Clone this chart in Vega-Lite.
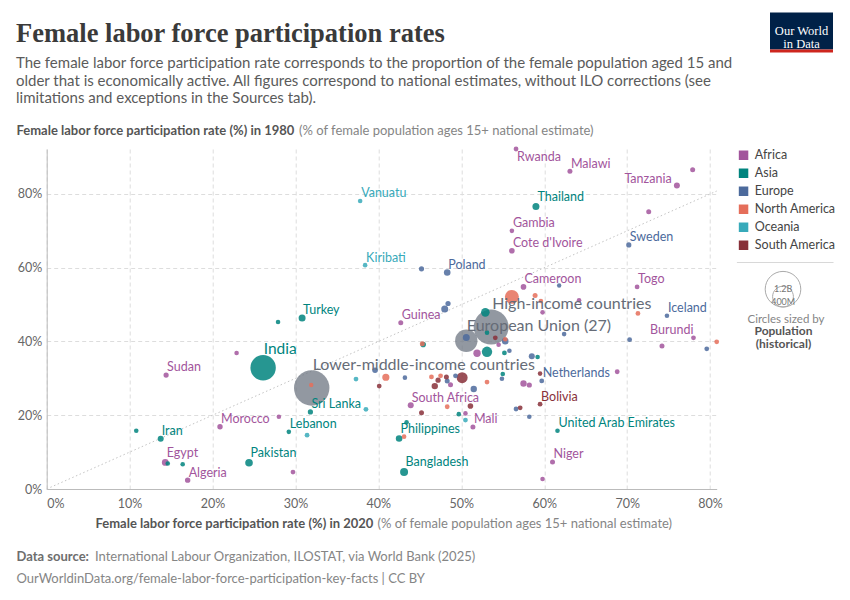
{
  "$schema": "https://vega.github.io/schema/vega-lite/v6.json",
  "width": 670,
  "height": 340,
  "autosize": {"type": "none"},
  "padding": {"left": 46.7, "top": 149, "right": 133.3, "bottom": 111},
  "background": "white",
  "config": {"font": "Lato", "view": {"stroke": null}, "style": {"guide-label": {"lineHeight": 13}}},
  "title": {
    "text": "Female labor force participation rates",
    "subtitle": ["The female labor force participation rate corresponds to the proportion of the female population aged 15 and", "older that is economically active. All figures correspond to national estimates, without ILO corrections (see", "limitations and exceptions in the Sources tab)."],
    "anchor": "start", "frame": "group", "dx": -30.7, "offset": -106.5,
    "font": "Liberation Serif", "fontSize": 26.5, "fontWeight": "bold", "color": "#3a3a3a",
    "subtitleFont": "Lato", "subtitleFontSize": 15, "subtitleColor": "#5b5b5b", "subtitleLineHeight": 17.5, "subtitlePadding": 9
  },
  "datasets": {
    "diag": [{"x": 0, "y": 0}, {"x": 80.8, "y": 80.8}],
    "aggregates": [
      {"entity": "High-income countries", "x2020": 53.6, "y1980": 43.9, "pop": 1160000000},
      {"entity": "Lower-middle-income countries", "x2020": 31.96, "y1980": 27.4, "pop": 1190000000},
      {"entity": "European Union (27)", "x2020": 50.6, "y1980": 40.2, "pop": 466000000}
    ],
    "countries": [
      {"entity": "Rwanda", "continent": "Africa", "x2020": 56.6, "y1980": 92.2, "pop": 7400000},
      {"entity": "Malawi", "continent": "Africa", "x2020": 63.1, "y1980": 86.2, "pop": 9300000},
      {"entity": "Tanzania", "continent": "Africa", "x2020": 76.0, "y1980": 82.3, "pop": 19900000},
      {"entity": "Africa other 1", "continent": "Africa", "x2020": 77.9, "y1980": 86.6, "pop": 9300000},
      {"entity": "Africa other 2", "continent": "Africa", "x2020": 72.6, "y1980": 75.2, "pop": 9300000},
      {"entity": "Gambia", "continent": "Africa", "x2020": 56.1, "y1980": 70.0, "pop": 5600000},
      {"entity": "Cote d'Ivoire", "continent": "Africa", "x2020": 56.1, "y1980": 64.6, "pop": 15400000},
      {"entity": "Cameroon", "continent": "Africa", "x2020": 57.5, "y1980": 54.8, "pop": 15400000},
      {"entity": "Togo", "continent": "Africa", "x2020": 71.2, "y1980": 54.8, "pop": 7400000},
      {"entity": "Africa other 3", "continent": "Africa", "x2020": 64.2, "y1980": 51.2, "pop": 5600000},
      {"entity": "Africa other 4", "continent": "Africa", "x2020": 59.8, "y1980": 47.9, "pop": 5600000},
      {"entity": "Guinea", "continent": "Africa", "x2020": 42.7, "y1980": 45.1, "pop": 9300000},
      {"entity": "Africa other 5", "continent": "Africa", "x2020": 51.9, "y1980": 36.8, "pop": 37800000},
      {"entity": "Africa other 6", "continent": "Africa", "x2020": 54.5, "y1980": 39.1, "pop": 5600000},
      {"entity": "Africa other 7", "continent": "Africa", "x2020": 74.2, "y1980": 38.8, "pop": 9300000},
      {"entity": "Burundi", "continent": "Africa", "x2020": 78.0, "y1980": 41.0, "pop": 7400000},
      {"entity": "Africa other 8", "continent": "Africa", "x2020": 68.8, "y1980": 31.8, "pop": 7400000},
      {"entity": "Africa other 9", "continent": "Africa", "x2020": 57.5, "y1980": 28.6, "pop": 24600000},
      {"entity": "Africa other 10", "continent": "Africa", "x2020": 58.2, "y1980": 28.2, "pop": 11300000},
      {"entity": "Africa other 11", "continent": "Africa", "x2020": 48.7, "y1980": 28.3, "pop": 9300000},
      {"entity": "South Africa", "continent": "Africa", "x2020": 43.9, "y1980": 22.7, "pop": 19900000},
      {"entity": "Mali", "continent": "Africa", "x2020": 51.4, "y1980": 16.8, "pop": 9300000},
      {"entity": "Africa other 12", "continent": "Africa", "x2020": 50.5, "y1980": 20.5, "pop": 5600000},
      {"entity": "Niger", "continent": "Africa", "x2020": 61.0, "y1980": 7.3, "pop": 9300000},
      {"entity": "Africa other 13", "continent": "Africa", "x2020": 59.8, "y1980": 2.7, "pop": 5600000},
      {"entity": "Africa other 14", "continent": "Africa", "x2020": 22.9, "y1980": 36.9, "pop": 5600000},
      {"entity": "Sudan", "continent": "Africa", "x2020": 14.4, "y1980": 30.9, "pop": 11300000},
      {"entity": "Africa other 15", "continent": "Africa", "x2020": 28.0, "y1980": 19.6, "pop": 5600000},
      {"entity": "Morocco", "continent": "Africa", "x2020": 20.9, "y1980": 16.9, "pop": 13300000},
      {"entity": "Egypt", "continent": "Africa", "x2020": 14.3, "y1980": 7.2, "pop": 29700000},
      {"entity": "Algeria", "continent": "Africa", "x2020": 17.0, "y1980": 2.4, "pop": 13300000},
      {"entity": "Africa other 16", "continent": "Africa", "x2020": 29.7, "y1980": 4.6, "pop": 7400000},
      {"entity": "Thailand", "continent": "Asia", "x2020": 59.0, "y1980": 76.6, "pop": 32300000},
      {"entity": "Turkey", "continent": "Asia", "x2020": 30.8, "y1980": 46.4, "pop": 32300000},
      {"entity": "Asia other 1", "continent": "Asia", "x2020": 27.9, "y1980": 45.3, "pop": 5600000},
      {"entity": "India", "continent": "Asia", "x2020": 26.1, "y1980": 32.9, "pop": 604000000},
      {"entity": "Sri Lanka", "continent": "Asia", "x2020": 31.8, "y1980": 20.9, "pop": 11300000},
      {"entity": "Lebanon", "continent": "Asia", "x2020": 29.2, "y1980": 15.5, "pop": 5600000},
      {"entity": "Asia other 2", "continent": "Asia", "x2020": 10.8, "y1980": 15.8, "pop": 5600000},
      {"entity": "Iran", "continent": "Asia", "x2020": 13.75, "y1980": 13.6, "pop": 19900000},
      {"entity": "Asia other 3", "continent": "Asia", "x2020": 14.6, "y1980": 6.9, "pop": 5600000},
      {"entity": "Asia other 4", "continent": "Asia", "x2020": 16.4, "y1980": 6.7, "pop": 5600000},
      {"entity": "Pakistan", "continent": "Asia", "x2020": 24.4, "y1980": 7.1, "pop": 40800000},
      {"entity": "Bangladesh", "continent": "Asia", "x2020": 43.1, "y1980": 4.6, "pop": 46700000},
      {"entity": "Philippines", "continent": "Asia", "x2020": 42.5, "y1980": 13.7, "pop": 27100000},
      {"entity": "Asia other 5", "continent": "Asia", "x2020": 43.4, "y1980": 18.1, "pop": 5600000},
      {"entity": "Asia other 6", "continent": "Asia", "x2020": 49.7, "y1980": 20.3, "pop": 5600000},
      {"entity": "United Arab Emirates", "continent": "Asia", "x2020": 61.6, "y1980": 15.8, "pop": 5600000},
      {"entity": "Asia other 7", "continent": "Asia", "x2020": 52.9, "y1980": 47.9, "pop": 56300000},
      {"entity": "Asia other 8", "continent": "Asia", "x2020": 53.1, "y1980": 37.2, "pop": 89000000},
      {"entity": "Asia other 9", "continent": "Asia", "x2020": 55.2, "y1980": 36.9, "pop": 7400000},
      {"entity": "Asia other 10", "continent": "Asia", "x2020": 59.2, "y1980": 35.8, "pop": 5600000},
      {"entity": "Asia other 11", "continent": "Asia", "x2020": 55.0, "y1980": 31.2, "pop": 5600000},
      {"entity": "Asia other 12", "continent": "Asia", "x2020": 45.4, "y1980": 39.2, "pop": 15400000},
      {"entity": "Asia other 13", "continent": "Asia", "x2020": 53.1, "y1980": 42.4, "pop": 5600000},
      {"entity": "Sweden", "continent": "Europe", "x2020": 70.2, "y1980": 66.2, "pop": 11300000},
      {"entity": "Poland", "continent": "Europe", "x2020": 48.3, "y1980": 58.7, "pop": 27100000},
      {"entity": "Europe other 1", "continent": "Europe", "x2020": 45.2, "y1980": 59.7, "pop": 11300000},
      {"entity": "Europe other 2", "continent": "Europe", "x2020": 61.8, "y1980": 55.2, "pop": 3900000},
      {"entity": "Europe other 3", "continent": "Europe", "x2020": 48.4, "y1980": 50.3, "pop": 11300000},
      {"entity": "Europe other 4", "continent": "Europe", "x2020": 48.0, "y1980": 48.8, "pop": 32300000},
      {"entity": "Iceland", "continent": "Europe", "x2020": 74.8, "y1980": 47.0, "pop": 5600000},
      {"entity": "Europe other 5", "continent": "Europe", "x2020": 50.6, "y1980": 41.1, "pop": 32300000},
      {"entity": "Europe other 6", "continent": "Europe", "x2020": 55.3, "y1980": 40.1, "pop": 27100000},
      {"entity": "Europe other 7", "continent": "Europe", "x2020": 55.8, "y1980": 37.5, "pop": 5600000},
      {"entity": "Europe other 8", "continent": "Europe", "x2020": 58.5, "y1980": 36.0, "pop": 19900000},
      {"entity": "Europe other 9", "continent": "Europe", "x2020": 62.4, "y1980": 42.0, "pop": 5600000},
      {"entity": "Europe other 10", "continent": "Europe", "x2020": 70.3, "y1980": 40.5, "pop": 7400000},
      {"entity": "Europe other 11", "continent": "Europe", "x2020": 79.6, "y1980": 38.0, "pop": 7400000},
      {"entity": "Netherlands", "continent": "Europe", "x2020": 59.7, "y1980": 29.3, "pop": 7400000},
      {"entity": "Europe other 12", "continent": "Europe", "x2020": 43.2, "y1980": 30.2, "pop": 5600000},
      {"entity": "Europe other 13", "continent": "Europe", "x2020": 48.3, "y1980": 29.3, "pop": 9300000},
      {"entity": "Europe other 14", "continent": "Europe", "x2020": 49.3, "y1980": 30.7, "pop": 7400000},
      {"entity": "Europe other 15", "continent": "Europe", "x2020": 51.5, "y1980": 27.1, "pop": 24600000},
      {"entity": "Europe other 16", "continent": "Europe", "x2020": 54.9, "y1980": 29.9, "pop": 5600000},
      {"entity": "Europe other 17", "continent": "Europe", "x2020": 56.6, "y1980": 21.7, "pop": 7400000},
      {"entity": "Europe other 18", "continent": "Europe", "x2020": 58.2, "y1980": 19.6, "pop": 5600000},
      {"entity": "Europe other 19", "continent": "Europe", "x2020": 39.6, "y1980": 32.2, "pop": 15400000},
      {"entity": "North America other 1", "continent": "North America", "x2020": 56.1, "y1980": 52.1, "pop": 173000000},
      {"entity": "North America other 2", "continent": "North America", "x2020": 58.9, "y1980": 52.5, "pop": 9300000},
      {"entity": "North America other 3", "continent": "North America", "x2020": 59.6, "y1980": 51.0, "pop": 5600000},
      {"entity": "North America other 4", "continent": "North America", "x2020": 71.3, "y1980": 47.6, "pop": 7400000},
      {"entity": "North America other 5", "continent": "North America", "x2020": 55.3, "y1980": 40.6, "pop": 5600000},
      {"entity": "North America other 6", "continent": "North America", "x2020": 80.8, "y1980": 39.9, "pop": 7400000},
      {"entity": "North America other 7", "continent": "North America", "x2020": 40.9, "y1980": 30.3, "pop": 35000000},
      {"entity": "North America other 8", "continent": "North America", "x2020": 46.4, "y1980": 30.4, "pop": 7400000},
      {"entity": "North America other 9", "continent": "North America", "x2020": 47.5, "y1980": 30.7, "pop": 7400000},
      {"entity": "North America other 10", "continent": "North America", "x2020": 53.1, "y1980": 29.0, "pop": 7400000},
      {"entity": "North America other 11", "continent": "North America", "x2020": 48.3, "y1980": 22.3, "pop": 7400000},
      {"entity": "North America other 12", "continent": "North America", "x2020": 43.1, "y1980": 14.2, "pop": 5600000},
      {"entity": "North America other 13", "continent": "North America", "x2020": 31.9, "y1980": 28.2, "pop": 3900000},
      {"entity": "North America other 14", "continent": "North America", "x2020": 45.3, "y1980": 39.4, "pop": 9300000},
      {"entity": "Vanuatu", "continent": "Oceania", "x2020": 37.8, "y1980": 78.1, "pop": 5600000},
      {"entity": "Kiribati", "continent": "Oceania", "x2020": 38.4, "y1980": 60.7, "pop": 5600000},
      {"entity": "Oceania other 1", "continent": "Oceania", "x2020": 37.3, "y1980": 29.8, "pop": 7400000},
      {"entity": "Oceania other 2", "continent": "Oceania", "x2020": 38.5, "y1980": 21.6, "pop": 7400000},
      {"entity": "Oceania other 3", "continent": "Oceania", "x2020": 31.4, "y1980": 14.6, "pop": 7400000},
      {"entity": "Oceania other 4", "continent": "Oceania", "x2020": 50.5, "y1980": 18.7, "pop": 7400000},
      {"entity": "Bolivia", "continent": "South America", "x2020": 59.5, "y1980": 23.0, "pop": 7400000},
      {"entity": "South America other 1", "continent": "South America", "x2020": 50.1, "y1980": 30.2, "pop": 101000000},
      {"entity": "South America other 2", "continent": "South America", "x2020": 46.8, "y1980": 27.9, "pop": 24600000},
      {"entity": "South America other 3", "continent": "South America", "x2020": 47.2, "y1980": 29.5, "pop": 11300000},
      {"entity": "South America other 4", "continent": "South America", "x2020": 48.2, "y1980": 30.4, "pop": 9300000},
      {"entity": "South America other 5", "continent": "South America", "x2020": 45.2, "y1980": 20.7, "pop": 9300000},
      {"entity": "South America other 6", "continent": "South America", "x2020": 51.1, "y1980": 22.5, "pop": 15400000},
      {"entity": "South America other 7", "continent": "South America", "x2020": 57.1, "y1980": 22.0, "pop": 7400000},
      {"entity": "South America other 8", "continent": "South America", "x2020": 59.5, "y1980": 31.3, "pop": 5600000},
      {"entity": "South America other 9", "continent": "South America", "x2020": 54.1, "y1980": 41.0, "pop": 7400000},
      {"entity": "South America other 10", "continent": "South America", "x2020": 40.1, "y1980": 27.9, "pop": 7400000}
    ]
  },
  "layer": [
    {
      "data": {"name": "diag"},
      "mark": {"type": "line", "stroke": "#c4c4c4", "strokeWidth": 1, "strokeDash": [1.5, 2.5]},
      "encoding": {
        "x": {"field": "x", "type": "quantitative", "scale": {"domain": [0, 80.8], "nice": false, "zero": false},
          "axis": {"orient": "bottom", "values": [0, 10, 20, 30, 40, 50, 60, 70, 80], "labelExpr": "datum.value + '%'",
            "labelAlign": {"condition": {"test": "datum.value == 0", "value": "left"}, "value": "center"},
            "labelFontSize": 12.5, "labelColor": "#666", "labelPadding": 8, "ticks": false,
            "domain": true, "domainColor": "#bbb", "domainWidth": 1,
            "grid": true, "gridColor": "#ddd", "gridDash": [4, 3],
            "title": "Female labor force participation rate (%) in 2020", "titleFontSize": 13, "titleFontWeight": "bold", "titleColor": "#555",
            "titleAlign": "left", "titleAngle": 0, "titleBaseline": "alphabetic", "titleX": 48.3, "titleY": 38.2}},
        "y": {"field": "y", "type": "quantitative", "scale": {"domain": [0, 92.2], "nice": false, "zero": false},
          "axis": {"orient": "left", "values": [0, 20, 40, 60, 80], "labelExpr": "datum.value + '%'",
            "labelFontSize": 12.5, "labelColor": "#666", "labelPadding": 5, "ticks": false,
            "domain": true, "domainColor": "#bbb", "domainWidth": 1,
            "grid": true, "gridColor": "#ddd", "gridDash": [4, 3],
            "title": "Female labor force participation rate (%) in 1980", "titleFontSize": 13, "titleFontWeight": "bold", "titleColor": "#555",
            "titleAlign": "left", "titleAngle": 0, "titleBaseline": "alphabetic", "titleX": -30.7, "titleY": -15}}
      }
    },
    {
      "data": {"name": "diag"},
      "transform": [{"filter": "false"}],
      "mark": {"type": "point", "filled": true, "color": "#002147", "opacity": 1, "strokeWidth": 0},
      "encoding": {
        "shape": {"datum": "Our World in Data", "type": "nominal", "scale": {"domain": ["Our World in Data"], "range": ["M-1,-0.587H1V0.587H-1Z"]},
          "legend": {"orient": "none", "legendX": 723.3, "legendY": -149.5, "title": null, "zindex": 2,
            "symbolSize": 3969, "symbolStrokeWidth": 0, "symbolOpacity": 1,
            "labelExpr": "['Our World', 'in Data']", "labelAlign": "center", "labelBaseline": "middle", "labelOffset": -31.5,
            "labelColor": "#ffffff", "labelFont": "Liberation Sans Narrow", "labelFontSize": 12.5}}
      }
    },
    {
      "data": {"name": "diag"},
      "transform": [{"filter": "false"}],
      "mark": {"type": "point", "filled": true, "color": "#ce261e", "opacity": 1, "strokeWidth": 0},
      "encoding": {
        "shape": {"datum": "owid-bar", "type": "nominal", "scale": {"domain": ["owid-bar"], "range": ["M-1,-0.048H1V0.048H-1Z"]},
          "legend": {"orient": "none", "legendX": 723.3, "legendY": -129.5, "title": null, "zindex": 3,
            "symbolSize": 3969, "symbolStrokeWidth": 0, "symbolOpacity": 1, "labelExpr": "''"}}
      }
    },
    {
      "data": {"name": "diag"},
      "transform": [{"filter": "false"}],
      "mark": {"type": "point", "filled": true, "color": "#d8d8d8", "opacity": 1, "strokeWidth": 0},
      "encoding": {
        "shape": {"datum": "separator", "type": "nominal", "scale": {"domain": ["separator"], "range": ["M-1,-0.0115H1V0.0115H-1Z"]},
          "legend": {"orient": "none", "legendX": 690, "legendY": 65, "title": null,
            "symbolSize": 9332, "symbolStrokeWidth": 0, "symbolOpacity": 1, "labelExpr": "''"}}
      }
    },
    {
      "data": {"name": "diag"},
      "transform": [{"filter": "false"}],
      "mark": {"type": "point", "filled": false, "color": "#aaaaaa", "opacity": 1, "strokeWidth": 1},
      "encoding": {
        "shape": {"datum": "population", "type": "nominal", "scale": {"domain": ["population"], "range": ["M-1,0A1,1 0 1,0 1,0A1,1 0 1,0 -1,0Z M-0.584,0.416A0.584,0.584 0 1,0 0.584,0.416A0.584,0.584 0 1,0 -0.584,0.416Z"]},
          "legend": {"orient": "none", "legendX": 707.8, "legendY": 121.7,
            "title": ["Population", "(historical)"], "titleOrient": "bottom", "titleFontSize": 12, "titleFontWeight": "bold", "titleColor": "#555",
            "titleAlign": "center", "titleAnchor": "middle", "titlePadding": 17, "titleLineHeight": 13,
            "symbolSize": 1267, "symbolStrokeColor": "#aaa", "symbolStrokeWidth": 1, "symbolOpacity": 1,
            "labelExpr": "['1.2B', '400M']", "labelAlign": "center", "labelBaseline": "middle", "labelOffset": -18.3,
            "labelFontSize": 9, "labelColor": "#777"}}
      }
    },
    {
      "data": {"name": "aggregates"},
      "mark": {"type": "point", "filled": true, "color": "#6e7581", "opacity": 0.75, "strokeWidth": 0},
      "encoding": {
        "x": {"field": "x2020", "type": "quantitative", "scale": {"domain": [0, 80.8], "nice": false, "zero": false},
          "axis": {"orient": "bottom", "labels": false, "ticks": false, "domain": false, "grid": false,
            "title": "(% of female population ages 15+ national estimate)", "titleFontSize": 13, "titleFontWeight": "normal", "titleColor": "#858585",
            "titleAlign": "left", "titleAngle": 0, "titleBaseline": "alphabetic", "titleX": 330.3, "titleY": 38.2}},
        "y": {"field": "y1980", "type": "quantitative", "scale": {"domain": [0, 92.2], "nice": false, "zero": false},
          "axis": {"orient": "left", "labels": false, "ticks": false, "domain": false, "grid": false,
            "title": "(% of female population ages 15+ national estimate)", "titleFontSize": 13, "titleFontWeight": "normal", "titleColor": "#858585",
            "titleAlign": "left", "titleAngle": 0, "titleBaseline": "alphabetic", "titleX": 251.8, "titleY": -15}},
        "size": {"field": "pop", "type": "quantitative", "scale": {"type": "linear", "domain": [0, 1200000000], "range": [15.3, 1267]}, "legend": null}
      }
    },
    {
      "data": {"name": "countries"},
      "mark": {"type": "point", "filled": true, "opacity": 0.85, "strokeWidth": 0},
      "encoding": {
        "x": {"field": "x2020", "type": "quantitative", "scale": {"domain": [0, 80.8], "nice": false, "zero": false},
          "axis": {"orient": "bottom", "labels": false, "ticks": false, "domain": false, "grid": false,
            "title": "Data source:", "titleFontSize": 13, "titleFontWeight": "bold", "titleColor": "#6e6e6e",
            "titleAlign": "left", "titleAngle": 0, "titleBaseline": "alphabetic", "titleX": -30.7, "titleY": 71.7}},
        "y": {"field": "y1980", "type": "quantitative", "scale": {"domain": [0, 92.2], "nice": false, "zero": false},
          "axis": {"orient": "right", "labels": false, "ticks": false, "domain": false, "grid": false,
            "title": "Circles sized by", "titleFontSize": 11.5, "titleFontWeight": "normal", "titleColor": "#858585",
            "titleAlign": "center", "titleAngle": 0, "titleBaseline": "alphabetic", "titleX": 68.8, "titleY": 173}},
        "color": {"field": "continent", "type": "nominal",
          "scale": {"domain": ["Africa", "Asia", "Europe", "North America", "Oceania", "South America"], "range": ["#a2559c", "#00847e", "#4c6a9c", "#e56e5a", "#38aaba", "#883039"]},
          "legend": {"orient": "none", "legendX": 690.6, "legendY": 0, "title": null, "symbolType": "square", "symbolSize": 90, "symbolStrokeWidth": 0, "symbolOpacity": 1,
            "labelFontSize": 12.5, "labelColor": "#444", "labelOffset": 5, "rowPadding": 5}},
        "size": {"field": "pop", "type": "quantitative", "scale": {"type": "linear", "domain": [0, 1200000000], "range": [15.3, 1267]}, "legend": null},
        "order": {"field": "pop", "type": "quantitative", "sort": "descending"}
      }
    },
    {
      "data": {"name": "countries"},
      "transform": [{"filter": {"field": "entity", "oneOf": ["Malawi", "Gambia", "Cote d'Ivoire", "Sweden", "Poland", "Cameroon", "Togo", "Iceland", "Guinea", "Netherlands", "Bolivia", "United Arab Emirates", "Niger", "Mali", "South Africa", "Turkey", "Sudan", "Morocco", "Lebanon", "Iran", "Algeria", "Vanuatu", "Kiribati", "Sri Lanka"]}}],
      "mark": {"type": "text", "align": "left", "baseline": "alphabetic", "dx": 1, "dy": -3.6, "fontSize": 12.5, "font": "Lato"},
      "encoding": {
        "x": {"field": "x2020", "type": "quantitative", "scale": {"domain": [0, 80.8], "nice": false, "zero": false},
          "axis": {"orient": "bottom", "labels": false, "ticks": false, "domain": false, "grid": false,
            "title": "International Labour Organization, ILOSTAT, via World Bank (2025)", "titleFontSize": 13, "titleFontWeight": "normal", "titleColor": "#858585",
            "titleAlign": "left", "titleAngle": 0, "titleBaseline": "alphabetic", "titleX": 47.8, "titleY": 71.7}},
        "y": {"field": "y1980", "type": "quantitative", "scale": {"domain": [0, 92.2], "nice": false, "zero": false}, "axis": null},
        "text": {"field": "entity"},
        "color": {"field": "continent", "type": "nominal", "legend": null}
      }
    },
    {
      "data": {"name": "countries"},
      "transform": [{"filter": {"field": "entity", "oneOf": ["Thailand", "Bangladesh", "Philippines", "Egypt", "Pakistan"]}}],
      "mark": {"type": "text", "align": "left", "baseline": "alphabetic", "dx": 1.5, "dy": -5.6, "fontSize": 12.5, "font": "Lato"},
      "encoding": {
        "x": {"field": "x2020", "type": "quantitative", "scale": {"domain": [0, 80.8], "nice": false, "zero": false},
          "axis": {"orient": "bottom", "labels": false, "ticks": false, "domain": false, "grid": false,
            "title": "OurWorldinData.org/female-labor-force-participation-key-facts | CC BY", "titleFontSize": 13, "titleFontWeight": "normal", "titleColor": "#858585",
            "titleAlign": "left", "titleAngle": 0, "titleBaseline": "alphabetic", "titleX": -30.7, "titleY": 93.7}},
        "y": {"field": "y1980", "type": "quantitative", "scale": {"domain": [0, 92.2], "nice": false, "zero": false}, "axis": null},
        "text": {"field": "entity"},
        "color": {"field": "continent", "type": "nominal", "legend": null}
      }
    },
    {
      "data": {"name": "countries"},
      "transform": [{"filter": {"field": "entity", "equal": "Rwanda"}}],
      "mark": {"type": "text", "align": "left", "baseline": "alphabetic", "dx": 1, "dy": 11.7, "fontSize": 12.5, "font": "Lato"},
      "encoding": {
        "x": {"field": "x2020", "type": "quantitative", "scale": {"domain": [0, 80.8], "nice": false, "zero": false}, "axis": null},
        "y": {"field": "y1980", "type": "quantitative", "scale": {"domain": [0, 92.2], "nice": false, "zero": false}, "axis": null},
        "text": {"field": "entity"},
        "color": {"field": "continent", "type": "nominal", "legend": null}
      }
    },
    {
      "data": {"name": "countries"},
      "transform": [{"filter": {"field": "entity", "equal": "Tanzania"}}],
      "mark": {"type": "text", "align": "right", "baseline": "alphabetic", "dx": -5.3, "dy": -3, "fontSize": 12.5, "font": "Lato"},
      "encoding": {
        "x": {"field": "x2020", "type": "quantitative", "scale": {"domain": [0, 80.8], "nice": false, "zero": false}, "axis": null},
        "y": {"field": "y1980", "type": "quantitative", "scale": {"domain": [0, 92.2], "nice": false, "zero": false}, "axis": null},
        "text": {"field": "entity"},
        "color": {"field": "continent", "type": "nominal", "legend": null}
      }
    },
    {
      "data": {"name": "countries"},
      "transform": [{"filter": {"field": "entity", "equal": "Burundi"}}],
      "mark": {"type": "text", "align": "right", "baseline": "alphabetic", "dx": 0, "dy": -3.7, "fontSize": 12.5, "font": "Lato"},
      "encoding": {
        "x": {"field": "x2020", "type": "quantitative", "scale": {"domain": [0, 80.8], "nice": false, "zero": false}, "axis": null},
        "y": {"field": "y1980", "type": "quantitative", "scale": {"domain": [0, 92.2], "nice": false, "zero": false}, "axis": null},
        "text": {"field": "entity"},
        "color": {"field": "continent", "type": "nominal", "legend": null}
      }
    },
    {
      "data": {"name": "countries"},
      "transform": [{"filter": {"field": "entity", "equal": "India"}}],
      "mark": {"type": "text", "align": "left", "baseline": "alphabetic", "dx": 0.6, "dy": -13.7, "fontSize": 15.5, "font": "Lato"},
      "encoding": {
        "x": {"field": "x2020", "type": "quantitative", "scale": {"domain": [0, 80.8], "nice": false, "zero": false}, "axis": null},
        "y": {"field": "y1980", "type": "quantitative", "scale": {"domain": [0, 92.2], "nice": false, "zero": false}, "axis": null},
        "text": {"field": "entity"},
        "color": {"field": "continent", "type": "nominal", "legend": null}
      }
    },
    {
      "data": {"name": "aggregates"},
      "transform": [{"filter": {"field": "entity", "oneOf": ["High-income countries", "Lower-middle-income countries"]}}],
      "mark": {"type": "text", "align": "left", "baseline": "alphabetic", "dx": 1, "dy": -18.3, "fontSize": 16, "font": "Lato", "color": "#666c77"},
      "encoding": {
        "x": {"field": "x2020", "type": "quantitative", "scale": {"domain": [0, 80.8], "nice": false, "zero": false}, "axis": null},
        "y": {"field": "y1980", "type": "quantitative", "scale": {"domain": [0, 92.2], "nice": false, "zero": false}, "axis": null},
        "text": {"field": "entity"}
      }
    },
    {
      "data": {"name": "aggregates"},
      "transform": [{"filter": {"field": "entity", "equal": "European Union (27)"}}],
      "mark": {"type": "text", "align": "left", "baseline": "alphabetic", "dx": 0.5, "dy": -9.8, "fontSize": 16, "font": "Lato", "color": "#666c77"},
      "encoding": {
        "x": {"field": "x2020", "type": "quantitative", "scale": {"domain": [0, 80.8], "nice": false, "zero": false}, "axis": null},
        "y": {"field": "y1980", "type": "quantitative", "scale": {"domain": [0, 92.2], "nice": false, "zero": false}, "axis": null},
        "text": {"field": "entity"}
      }
    }
  ],
  "resolve": {"axis": {"x": "independent", "y": "independent"}, "scale": {"shape": "independent"}, "legend": {"shape": "independent"}}
}
